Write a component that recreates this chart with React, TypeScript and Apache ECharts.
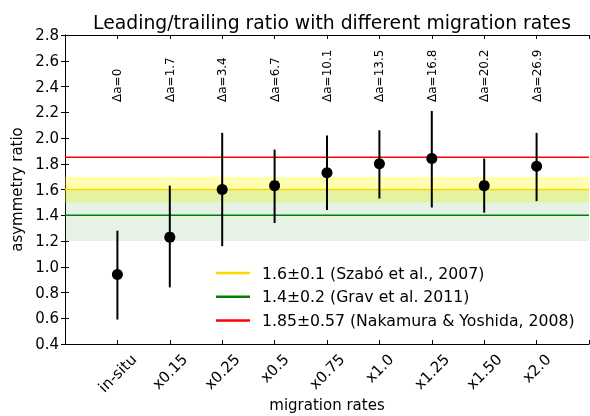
import React, { useEffect, useRef } from "react";
import * as echarts from "echarts";

const categories = ["in-situ", "x0.15", "x0.25", "x0.5", "x0.75", "x1.0", "x1.25", "x1.50", "x2.0"];
const deltaA = ["Δa=0", "Δa=1.7", "Δa=3.4", "Δa=6.7", "Δa=10.1", "Δa=13.5", "Δa=16.8", "Δa=20.2", "Δa=26.9"];
const ratio = [0.94, 1.23, 1.6, 1.63, 1.73, 1.8, 1.84, 1.63, 1.78];
const errLow = [0.59, 0.84, 1.16, 1.34, 1.44, 1.53, 1.46, 1.42, 1.51];
const errHigh = [1.28, 1.63, 2.04, 1.91, 2.02, 2.06, 2.21, 1.84, 2.04];

const refNames = ["1.6±0.1 (Szabó et al., 2007)", "1.4±0.2 (Grav et al. 2011)", "1.85±0.57 (Nakamura & Yoshida, 2008)"];
const refValues = [1.6, 1.4, 1.85];
const refColors = ["#ffd700", "#008000", "#ff0000"];
const refBands: (number[] | null)[] = [[1.5, 1.7], [1.2, 1.6], null];
const bandColors = ["rgba(255,255,0,0.3)", "rgba(0,128,0,0.1)", "rgba(0,0,0,0)"];
const deltaLabelY = 2.28;
const yMin = 0.4;

const FONT = "DejaVu Sans";
const TICK_FS = 15;

export default function App() {
  const ref = useRef<HTMLDivElement>(null);
  useEffect(() => {
    if (!ref.current) return;
    const chart = echarts.init(ref.current, null, { renderer: "svg" });
    const xMin = 0;
    const xMax = categories.length + 1;

    const cv = document.createElement("canvas").getContext("2d")!;
    cv.font = `${TICK_FS}px "${FONT}"`;
    const widths = categories.map((c) => cv.measureText(c).width);

    const refSeries = refNames.map((name, i) => ({
      name,
      type: "line",
      xAxisIndex: 0,
      yAxisIndex: 0,
      data: [[xMin, refValues[i]], [xMax, refValues[i]]],
      symbol: "none",
      lineStyle: { color: refColors[i], width: 1.5 },
      itemStyle: { color: refColors[i] },
      z: 3,
      markArea: refBands[i]
        ? {
            silent: true,
            itemStyle: { color: bandColors[i] },
            data: [[{ yAxis: refBands[i]![0] }, { yAxis: refBands[i]![1] }]],
          }
        : undefined,
    }));

    const axisCommon = {
      axisLine: { show: true, lineStyle: { color: "#000", width: 1 } },
      axisTick: { show: true, inside: true, length: 4, lineStyle: { color: "#000" } },
      splitLine: { show: false },
    };

    const option: any = {
      animation: false,
      textStyle: { fontFamily: FONT },
      title: {
        text: "Leading/trailing ratio with different migration rates",
        left: 327,
        textAlign: "center",
        top: 8,
        textStyle: { fontFamily: FONT, fontSize: 18.8, fontWeight: "normal", color: "#000" },
      },
      legend: {
        orient: "vertical",
        left: 216,
        top: 265,
        padding: 0,
        icon: "rect",
        itemWidth: 34,
        itemHeight: 2.5,
        itemGap: 7.8,
        data: refNames,
        textStyle: { fontFamily: FONT, fontSize: 15.7, color: "#000", padding: [0, 0, 0, 7] },
      },
      grid: { left: 65, right: 1, top: 35, bottom: 72, outerBoundsMode: "none", containLabel: false },
      xAxis: [
        {
          type: "value",
          min: xMin,
          max: xMax,
          interval: 1,
          position: "bottom",
          name: "migration rates",
          nameLocation: "middle",
          nameGap: 53,
          nameTextStyle: { fontFamily: FONT, fontSize: 15, color: "#000" },
          ...axisCommon,
          axisLabel: { show: false },
        },
        {
          type: "value",
          min: xMin,
          max: xMax,
          interval: 1,
          position: "top",
          ...axisCommon,
          axisLabel: { show: false },
        },
      ],
      yAxis: [
        {
          type: "value",
          min: yMin,
          max: 2.8,
          interval: 0.2,
          name: "asymmetry ratio",
          nameLocation: "middle",
          nameGap: 37,
          nameTextStyle: { fontFamily: FONT, fontSize: 15, color: "#000" },
          ...axisCommon,
          axisLabel: {
            fontFamily: FONT,
            fontSize: TICK_FS,
            color: "#000",
            margin: 6,
            formatter: (v: number) => v.toFixed(1),
          },
        },
        {
          type: "value",
          min: yMin,
          max: 2.8,
          interval: 0.2,
          position: "right",
          ...axisCommon,
          axisLabel: { show: false },
        },
      ],
      series: [
        ...refSeries,
        {
          type: "custom",
          name: "errorbars",
          xAxisIndex: 0,
          yAxisIndex: 0,
          z: 5,
          data: categories.map((_, i) => [i + 1, errLow[i], errHigh[i]]),
          renderItem: (params: any, api: any) => {
            const x = api.value(0);
            const p1 = api.coord([x, api.value(1)]);
            const p2 = api.coord([x, api.value(2)]);
            return {
              type: "line",
              shape: { x1: p1[0], y1: p1[1], x2: p2[0], y2: p2[1] },
              style: { stroke: "#000", lineWidth: 2 },
            };
          },
        },
        {
          type: "scatter",
          name: "ratio",
          xAxisIndex: 0,
          yAxisIndex: 0,
          z: 6,
          symbol: "circle",
          symbolSize: 11,
          itemStyle: { color: "#000", opacity: 1 },
          data: categories.map((_, i) => [i + 1, ratio[i]]),
        },
        {
          type: "custom",
          name: "deltaA",
          xAxisIndex: 0,
          yAxisIndex: 0,
          z: 7,
          data: categories.map((_, i) => [i + 1, deltaLabelY]),
          renderItem: (params: any, api: any) => {
            const p = api.coord([api.value(0), api.value(1)]);
            return {
              type: "text",
              x: p[0],
              y: p[1],
              rotation: Math.PI / 2,
              style: {
                text: deltaA[params.dataIndex],
                fontFamily: FONT,
                fontSize: 12,
                fill: "#000",
                align: "left",
                verticalAlign: "middle",
              },
            };
          },
        },
        {
          type: "custom",
          name: "xlabels",
          xAxisIndex: 0,
          yAxisIndex: 0,
          clip: false,
          z: 7,
          data: categories.map((_, i) => [i + 1, yMin]),
          renderItem: (params: any, api: any) => {
            const p = api.coord([api.value(0), api.value(1)]);
            const w = widths[params.dataIndex];
            const half = (w + TICK_FS * 1.1) * Math.SQRT1_2 / 2;
            return {
              type: "text",
              x: p[0],
              y: p[1] + 7 + half,
              rotation: Math.PI / 4,
              style: {
                text: categories[params.dataIndex],
                fontFamily: FONT,
                fontSize: TICK_FS,
                fill: "#000",
                align: "center",
                verticalAlign: "middle",
              },
            };
          },
        },
      ],
    };
    chart.setOption(option);
    return () => chart.dispose();
  }, []);
  return <div ref={ref} style={{ position: "fixed", left: 0, top: 0, width: 590, height: 416 }} />;
}
